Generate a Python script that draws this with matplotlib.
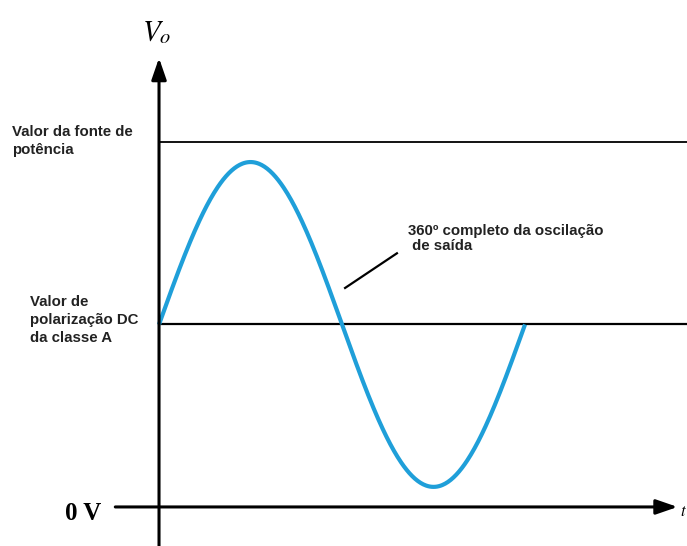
import numpy as np
import matplotlib.pyplot as plt

# niveis (V)
V_fonte = 10.0      # valor da fonte de potencia
V_dc = 5.0          # polarizacao DC classe A
amplitude = 4.45    # amplitude da oscilacao de saida
fase_graus = np.linspace(0, 360, 400)
Vo = V_dc + amplitude * np.sin(np.radians(fase_graus))

azul = '#1f9fd9'

plt.rcParams['mathtext.fontset'] = 'stix'
fig = plt.figure(figsize=(6.87, 5.46), dpi=100)
ax = fig.add_axes([0, 0, 1, 1])
ax.set_xlim(-156.4, 519.3)
ax.set_ylim(-1.07, 13.89)
ax.axis('off')

# eixos com setas
ax.annotate('', xy=(510, 0), xytext=(-43, 0),
            arrowprops=dict(arrowstyle='-|>,head_length=1.3,head_width=0.45',
                            color='black', lw=2.2, shrinkA=0, shrinkB=0))
ax.annotate('', xy=(0, 12.3), xytext=(0, -1.1),
            arrowprops=dict(arrowstyle='-|>,head_length=1.3,head_width=0.45',
                            color='black', lw=2.2, shrinkA=0, shrinkB=0))

# niveis horizontais
ax.plot([0, 530], [V_fonte, V_fonte], color='black', lw=1.3)
ax.plot([0, 530], [V_dc, V_dc], color='black', lw=1.6)

# senoide
ax.plot(fase_graus, Vo, color=azul, lw=3.0, solid_capstyle='butt')

# anotacao
ax.plot([183, 234], [6.0, 6.95], color='black', lw=1.6)
fonte_txt = dict(family='Liberation Sans', fontweight='bold', fontsize=10.8, color='#222222')
ax.text(245, 7.36, '360º completo da oscilação\n de saída', va='center', ha='left',
        linespacing=1.1, **fonte_txt)

ax.text(-144.6, 10.03, 'Valor da fonte de\npotência', va='center', ha='left',
        linespacing=1.38, **fonte_txt)
ax.text(-126.9, 5.12, 'Valor de\npolarização DC\nda classe A', va='center', ha='left',
        linespacing=1.38, **fonte_txt)

ax.text(-2, 13.0, r'$V_o$', fontsize=21, ha='center', va='center')
ax.text(-57, -0.19, '0 V', family='Liberation Serif', fontweight='bold',
        fontsize=18, ha='right', va='center')
ax.text(512.5, -0.1, r'$t$', fontsize=12, ha='left', va='center')

fig.savefig('out.png', dpi=100)
